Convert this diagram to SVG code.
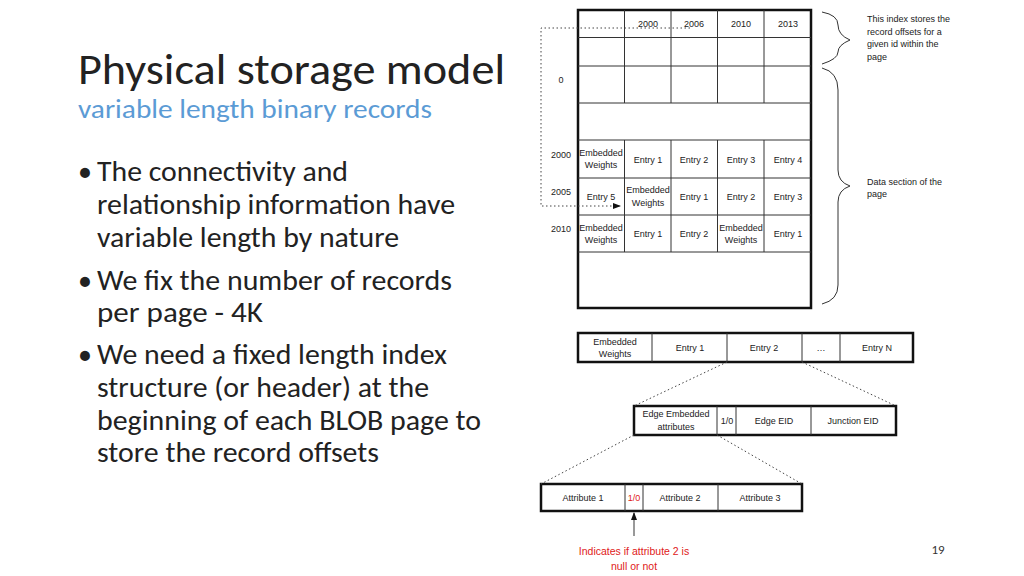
<svg xmlns="http://www.w3.org/2000/svg" width="1024" height="576" viewBox="0 0 1024 576">
<style>
.t{font-family:"Liberation Sans",Arial,sans-serif;font-size:9px;fill:#222;text-anchor:middle}
.c{font-family:Carlito,Calibri,"Liberation Sans",sans-serif}
.g{stroke:#333;stroke-width:1;fill:none}
.b{stroke:#111;stroke-width:2.5;fill:#fff}
.d{stroke:#444;stroke-width:1;stroke-dasharray:1.5 2.5;fill:none}
</style>
<defs><marker id="ah" markerWidth="8" markerHeight="8" refX="7" refY="4" orient="auto" markerUnits="userSpaceOnUse"><path d="M0,1 L8,4 L0,7z" fill="#111"/></marker></defs>
<rect width="1024" height="576" fill="#fff"/>
<text x="78" y="84" class="c" font-size="44" fill="#222" textLength="427" lengthAdjust="spacingAndGlyphs">Physical storage model</text>
<text x="78" y="118" class="c" font-size="26" fill="#5b9bd5" textLength="354" lengthAdjust="spacingAndGlyphs">variable length binary records</text>
<g class="c" font-size="28" fill="#222" lengthAdjust="spacingAndGlyphs">
<text x="78" y="181">•</text><text x="97" y="181" textLength="251" lengthAdjust="spacingAndGlyphs">The connectivity and</text>
<text x="97" y="214" textLength="358" lengthAdjust="spacingAndGlyphs">relationship information have</text>
<text x="97" y="247" textLength="302" lengthAdjust="spacingAndGlyphs">variable length by nature</text>
<text x="78" y="290">•</text><text x="97" y="290" textLength="355" lengthAdjust="spacingAndGlyphs">We fix the number of records</text>
<text x="97" y="322" textLength="166" lengthAdjust="spacingAndGlyphs">per page -  4K</text>
<text x="78" y="364">•</text><text x="97" y="364" textLength="350" lengthAdjust="spacingAndGlyphs">We need a fixed length index</text>
<text x="97" y="397" textLength="332" lengthAdjust="spacingAndGlyphs">structure (or header) at the</text>
<text x="97" y="430" textLength="384" lengthAdjust="spacingAndGlyphs">beginning of each BLOB page to</text>
<text x="97" y="462" textLength="282" lengthAdjust="spacingAndGlyphs">store the record offsets</text>
</g>
<g id="page">
<rect x="578" y="10" width="233" height="298" class="b"/>
<path class="g" d="M578,37.5H811M578,66H811M578,103H811M578,140H811M578,178H811M578,215H811M578,252H811M624.5,10V103M671,10V103M717.5,10V103M764,10V103M624.5,140V252M671,140V252M717.5,140V252M764,140V252"/>
<g class="t"><text x="648" y="27">2000</text><text x="694" y="27">2006</text><text x="741" y="27">2010</text><text x="788" y="27">2013</text>
<text x="561" y="83">0</text><text x="561" y="158">2000</text><text x="561" y="195">2005</text><text x="561" y="232">2010</text>
<text x="601" y="156">Embedded</text><text x="601" y="168">Weights</text><text x="648" y="163">Entry 1</text><text x="694" y="163">Entry 2</text><text x="741" y="163">Entry 3</text><text x="788" y="163">Entry 4</text>
<text x="601" y="200">Entry 5</text><text x="648" y="193">Embedded</text><text x="648" y="206">Weights</text><text x="694" y="200">Entry 1</text><text x="741" y="200">Entry 2</text><text x="788" y="200">Entry 3</text>
<text x="601" y="231">Embedded</text><text x="601" y="243">Weights</text><text x="648" y="237">Entry 1</text><text x="694" y="237">Entry 2</text><text x="741" y="231">Embedded</text><text x="741" y="243">Weights</text><text x="788" y="237">Entry 1</text></g>
</g>
<g id="row1"><rect x="578" y="333" width="335" height="29" class="b"/><path class="g" d="M652,333V362M727,333V362M802,333V362M840,333V362"/>
<g class="t"><text x="615" y="345">Embedded</text><text x="615" y="357">Weights</text><text x="690" y="351">Entry 1</text><text x="764" y="351">Entry 2</text><text x="821" y="351">…</text><text x="877" y="351">Entry N</text></g></g>
<g id="row2"><rect x="634" y="406" width="262" height="29" class="b"/><path class="g" d="M717,406V435M736,406V435M811,406V435"/>
<g class="t"><text x="676" y="417">Edge Embedded</text><text x="676" y="430">attributes</text><text x="727" y="424">1/0</text><text x="774" y="424">Edge EID</text><text x="853" y="424">Junction EID</text></g></g>
<g id="row3"><rect x="541" y="484" width="261" height="27" class="b"/><path class="g" d="M625,484V511M643,484V511M718,484V511"/>
<g class="t"><text x="583" y="501">Attribute 1</text><text x="634" y="501" fill="#e02020">1/0</text><text x="680" y="501">Attribute 2</text><text x="760" y="501">Attribute 3</text></g></g>
<g id="connectors">
<path class="d" d="M690,28H541V206H620" marker-end="url(#ah)"/>
<path class="d" d="M727,362L634,406M802,362L896,406M634,435L541,484M717,435L802,484"/>
<line x1="634" y1="536" x2="634" y2="513" stroke="#555" stroke-width="1.2" marker-end="url(#ah)"/>
<path class="g" stroke-width="1" d="M822,12Q838,15 838,25T850,40Q838,45 838,52T822,64M822,68Q838,72 838,90V170Q838,182 850,186Q838,190 838,202V285Q838,300 822,304"/>
</g>
<g class="t" style="text-anchor:start;font-size:9px">
<text x="867" y="22">This index stores the</text><text x="867" y="35">record offsets for a</text><text x="867" y="47">given id within the</text><text x="867" y="60">page</text>
<text x="867" y="185">Data section of the</text><text x="867" y="197">page</text></g>
<g class="t" style="font-size:10.5px;fill:#e02020"><text x="634" y="555">Indicates if attribute 2 is</text><text x="634" y="570">null or not</text></g>
<text x="938" y="554" class="c" font-size="13" fill="#333" text-anchor="middle">19</text>
</svg>
